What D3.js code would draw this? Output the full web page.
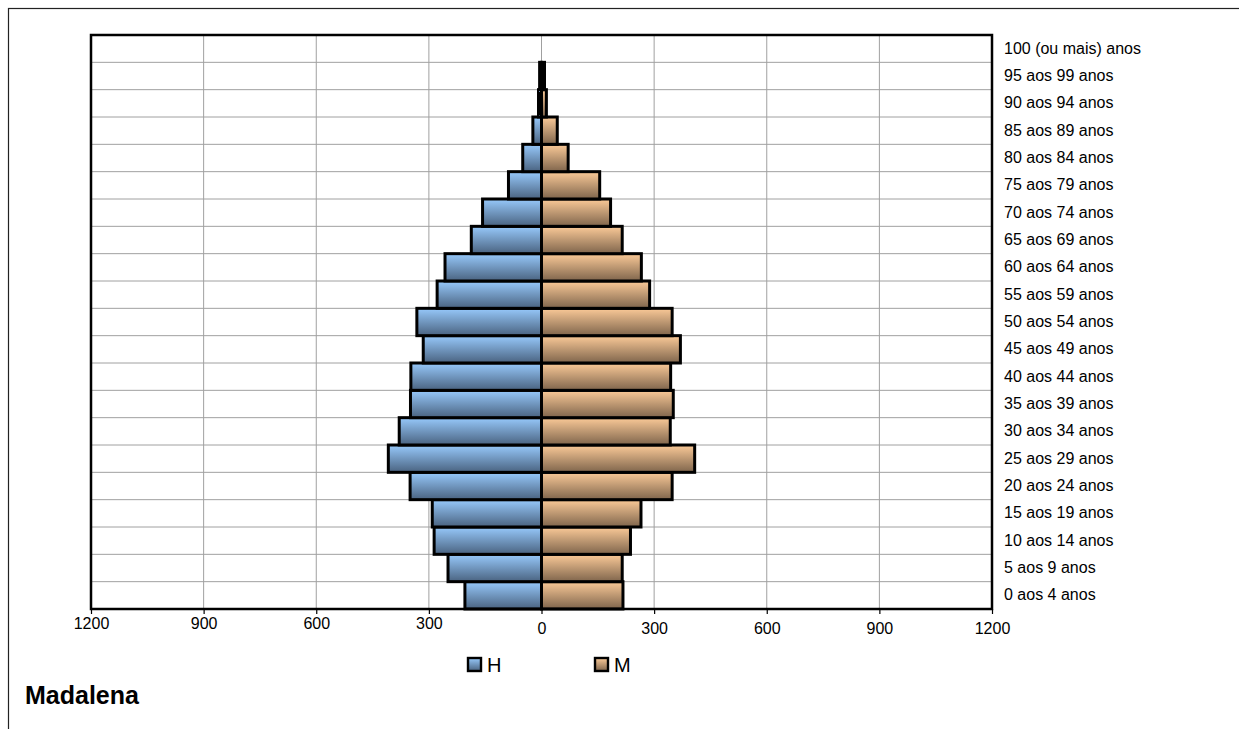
<!DOCTYPE html>
<html>
<head>
<meta charset="utf-8">
<script src="https://cdn.jsdelivr.net/npm/d3@7"></script>
<style>
  html, body { margin: 0; padding: 0; background: #fff; }
  svg { display: block; font-family: "Liberation Sans", Arial, sans-serif; }
</style>
</head>
<body>
<svg id="chart" width="1239" height="729"></svg>
<script>
// Age groups, from youngest to oldest
const ageGroups = [
  "0 aos 4 anos", "5 aos 9 anos", "10 aos 14 anos", "15 aos 19 anos",
  "20 aos 24 anos", "25 aos 29 anos", "30 aos 34 anos", "35 aos 39 anos",
  "40 aos 44 anos", "45 aos 49 anos", "50 aos 54 anos", "55 aos 59 anos",
  "60 aos 64 anos", "65 aos 69 anos", "70 aos 74 anos", "75 aos 79 anos",
  "80 aos 84 anos", "85 aos 89 anos", "90 aos 94 anos", "95 aos 99 anos",
  "100 (ou mais) anos"
];
// Population by sex (H = homens, M = mulheres)
const homens = [204, 249, 286, 291, 350, 408, 379, 349, 348, 315, 332, 278, 257, 187, 157, 88, 50, 23, 8, 5, 0];
const mulheres = [217, 215, 237, 265, 348, 408, 343, 351, 344, 370, 348, 288, 266, 215, 184, 155, 71, 42, 13, 8, 0];
const xTicks = [-1200, -900, -600, -300, 0, 300, 600, 900, 1200];
const seriesNames = ["H", "M"];
const placeName = "Madalena";

const svg = d3.select("#chart");
const plot = { left: 91, right: 992, top: 35, bottom: 609 };

// Gradients for the bar fills
const defs = svg.append("defs");
function vGrad(id, top, bottom) {
  const g = defs.append("linearGradient").attr("id", id)
    .attr("x1", 0).attr("y1", 0).attr("x2", 0).attr("y2", 1);
  g.append("stop").attr("offset", "0%").attr("stop-color", top);
  g.append("stop").attr("offset", "100%").attr("stop-color", bottom);
}
vGrad("gH", "#97c9fb", "#4a6380");
vGrad("gM", "#fbca98", "#7f654c");

// Outer frame
svg.append("rect").attr("x", 8.5).attr("y", 8.5).attr("width", 1240).attr("height", 730)
  .attr("fill", "none").attr("stroke", "#222").attr("stroke-width", 1.2);

const x = d3.scaleLinear().domain([-1200, 1200]).range([plot.left, plot.right]);
const y = d3.scaleBand().domain(ageGroups.slice().reverse())
  .range([plot.top, plot.bottom]).paddingInner(0).paddingOuter(0);

// Grid
const grid = svg.append("g");
grid.selectAll("line.v").data(xTicks).enter().append("line")
  .attr("x1", d => x(d)).attr("x2", d => x(d))
  .attr("y1", plot.top).attr("y2", plot.bottom)
  .attr("stroke", "#a0a0a0").attr("stroke-width", 1);
grid.selectAll("line.h").data(ageGroups.slice(1)).enter().append("line")
  .attr("x1", plot.left).attr("x2", plot.right)
  .attr("y1", d => y(d) + y.bandwidth()).attr("y2", d => y(d) + y.bandwidth())
  .attr("stroke", "#a0a0a0").attr("stroke-width", 1);

// Bars
const rows = ageGroups.map((a, i) => ({ age: a, h: homens[i], m: mulheres[i] }));
const bars = svg.append("g");
bars.selectAll("rect.h").data(rows.filter(d => d.h > 0)).enter().append("rect")
  .attr("x", d => x(-d.h)).attr("width", d => x(0) - x(-d.h))
  .attr("y", d => y(d.age)).attr("height", y.bandwidth())
  .attr("fill", "url(#gH)").attr("stroke", "#000").attr("stroke-width", 3);
bars.selectAll("rect.m").data(rows.filter(d => d.m > 0)).enter().append("rect")
  .attr("x", x(0)).attr("width", d => x(d.m) - x(0))
  .attr("y", d => y(d.age)).attr("height", y.bandwidth())
  .attr("fill", "url(#gM)").attr("stroke", "#000").attr("stroke-width", 3);

// Plot frame
svg.append("rect").attr("x", plot.left).attr("y", plot.top)
  .attr("width", plot.right - plot.left).attr("height", plot.bottom - plot.top)
  .attr("fill", "none").attr("stroke", "#000").attr("stroke-width", 2.5);

// X axis
const xAxis = d3.axisBottom(x).tickValues(xTicks).tickSize(5).tickSizeOuter(0)
  .tickFormat(d => Math.abs(d));
const gx = svg.append("g").attr("transform", `translate(0,${plot.bottom})`).call(xAxis);
gx.select(".domain").remove();
gx.selectAll(".tick line").attr("stroke", "#000").attr("stroke-width", 1.2);
gx.selectAll(".tick text").attr("font-size", 16).attr("fill", "#000")
  .attr("font-family", "'Liberation Sans', Arial, sans-serif")
  .attr("y", d => d < 0 ? 9 : 14);

// Age labels on the right
const yAxis = d3.axisRight(y).tickSize(0).tickPadding(12);
const gy = svg.append("g").attr("transform", `translate(${plot.right},0)`).call(yAxis);
gy.select(".domain").remove();
gy.selectAll(".tick text").attr("font-size", 16).attr("fill", "#000")
  .attr("font-family", "'Liberation Sans', Arial, sans-serif");

// Legend
const legendX = [467, 594];
const lg = svg.append("g");
seriesNames.forEach((s, i) => {
  lg.append("rect").attr("x", legendX[i] + 1).attr("y", 658).attr("width", 13).attr("height", 13)
    .attr("fill", i === 0 ? "url(#gH)" : "url(#gM)").attr("stroke", "#000").attr("stroke-width", 2.4);
  lg.append("text").attr("x", legendX[i] + 20).attr("y", 672)
    .attr("font-size", 20).attr("fill", "#000").text(s);
});

// Place name
svg.append("text").attr("x", 25).attr("y", 704)
  .attr("font-size", 25).attr("font-weight", "bold").attr("fill", "#000").text(placeName);
</script>
</body>
</html>
